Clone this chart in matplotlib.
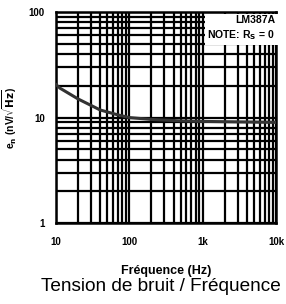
import matplotlib
matplotlib.use('Agg')
import matplotlib.pyplot as plt
import numpy as np

# noise voltage curve
freq_hz = [10, 11.3, 20, 40, 70, 100, 200, 500, 1000, 3000, 10000]
noise_nv = [20.5, 19.0, 15.0, 11.8, 10.6, 10.0, 9.6, 9.3, 9.2, 9.1, 9.0]

x_ticks = [10, 100, 1000, 10000]
x_labels = ['10', '100', '1k', '10k']
y_ticks = [1, 10, 100]
y_labels = ['1', '10', '100']

plt.rcParams['font.family'] = ['Liberation Sans', 'DejaVu Sans']

fig = plt.figure(figsize=(2.86, 3.04), dpi=100)
ax = fig.add_axes([0.196, 0.266, 0.769, 0.6945])

ax.set_xscale('log')
ax.set_yscale('log')
ax.set_xlim(10, 10000)
ax.set_ylim(1, 100)

# heavy black log grid like the scanned datasheet
ax.grid(True, which='both', color='black', linewidth=1.6)
ax.set_axisbelow(True)
for s in ax.spines.values():
    s.set_linewidth(1.8)

ax.plot(freq_hz, noise_nv, color='#333333', linewidth=2.2, zorder=3)

ax.set_xticks(x_ticks)
ax.set_xticklabels(x_labels, fontsize=7, fontweight='bold')
ax.set_yticks(y_ticks)
ax.set_yticklabels(y_labels, fontsize=7, fontweight='bold')
ax.xaxis.set_minor_formatter(matplotlib.ticker.NullFormatter())
ax.yaxis.set_minor_formatter(matplotlib.ticker.NullFormatter())
ax.tick_params(axis='x', which='both', length=0, pad=10)
ax.tick_params(axis='y', which='both', length=0, pad=8)

ax.set_ylabel(r'e$_\mathbf{n}$ (nV/$\mathbf{\sqrt{Hz}}$)', fontsize=7.5,
              fontweight='bold')
ax.yaxis.set_label_coords(-0.17, 0.5)
ax.set_xlabel('Fréquence (Hz)', fontsize=9, fontweight='bold')
ax.xaxis.set_label_coords(0.5, -0.2)

ax.text(0.995, 0.985, 'LM387A\nNOTE: R$_\\mathbf{S}$ = 0', transform=ax.transAxes,
        ha='right', va='top', fontsize=7.5, fontweight='bold', linespacing=1.3,
        bbox=dict(facecolor='white', edgecolor='none', pad=2), zorder=4)

fig.text(0.563, 0.058, 'Tension de bruit / Fréquence', ha='center', va='center',
         fontsize=13.7)

fig.savefig('out.png', dpi=100)
